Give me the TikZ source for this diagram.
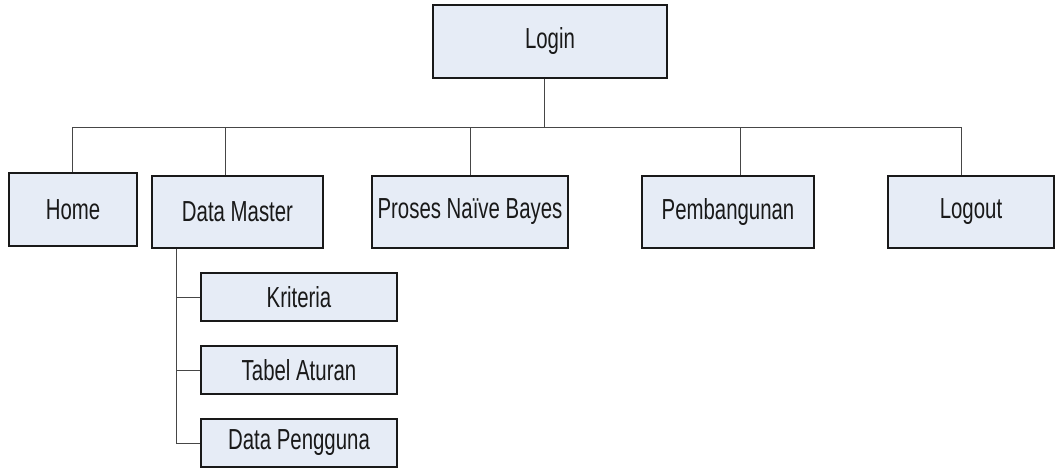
\documentclass[tikz,border=0pt]{standalone}
\usepackage{fontspec}
\setmainfont{Liberation Sans}
\usepackage{tikz}

\definecolor{boxfill}{RGB}{230,236,246}
\definecolor{linegray}{RGB}{70,70,70}

% stretched label text, as in the original drawing
\newcommand{\tallt}[1]{\scalebox{1}[1.42]{#1}}

\tikzset{
  menubox/.style={draw=black!90, fill=boxfill, line width=1.1pt, inner sep=0pt,
    text=black!90, font=\fontsize{20.4}{24}\selectfont},
  link/.style={draw=linegray, line width=0.9pt}
}

\begin{document}
\begin{tikzpicture}[x=1pt, y=-1pt]
          \useasboundingbox (0,0) rectangle (1055,468);
          % Login
          \node[menubox, minimum width=234, minimum height=73] (login) at (550,41.5) {\tallt{Login}};
          % top menu
          \node[menubox, minimum width=128, minimum height=73] (home) at (73,209.5) {\tallt{Home}};
          \node[menubox, minimum width=171, minimum height=72] (dm) at (237.5,212) {\tallt{Data Master}};
          \node[menubox, minimum width=196, minimum height=72] (nb) at (470,212) {\tallt{Proses Naïve Bayes}};
          \node[menubox, minimum width=172, minimum height=72] (pemb) at (728,212) {\tallt{Pembangunan}};
          \node[menubox, minimum width=166, minimum height=72] (logout) at (971,212) {\tallt{Logout}};
          % sub menu of Data Master
          \node[menubox, minimum width=196, minimum height=48] (krit) at (299,297) {\tallt{Kriteria}};
          \node[menubox, minimum width=196, minimum height=48] (tabel) at (299,370) {\tallt{Tabel Aturan}};
          \node[menubox, minimum width=196, minimum height=48] (dp) at (299,443) {\tallt{Data Pengguna}};
          % line from Login down to the bus
          \draw[link] ([xshift=-6]login.south) -- ++(0,49) coordinate (bus);
          % bus with Home and Logout
          \draw[link] ([xshift=-1]home.north) |- ([xshift=-10]logout.north |- bus) -- ([xshift=-10]logout.north);
          % other drops
          \draw[link] ([xshift=-12.5]dm.north) -- ([xshift=-12.5]dm.north |- bus);
          \draw[link] (nb.north) -- (nb.north |- bus);
          \draw[link] ([xshift=12]pemb.north) -- ([xshift=12]pemb.north |- bus);
          % Data Master tree
          \draw[link] ([xshift=-61.5]dm.south) |- (dp.west);
          \draw[link] ([xshift=-61.5]dm.south |- krit.west) -- (krit.west);
          \draw[link] ([xshift=-61.5]dm.south |- tabel.west) -- (tabel.west);
\end{tikzpicture}
\end{document}
